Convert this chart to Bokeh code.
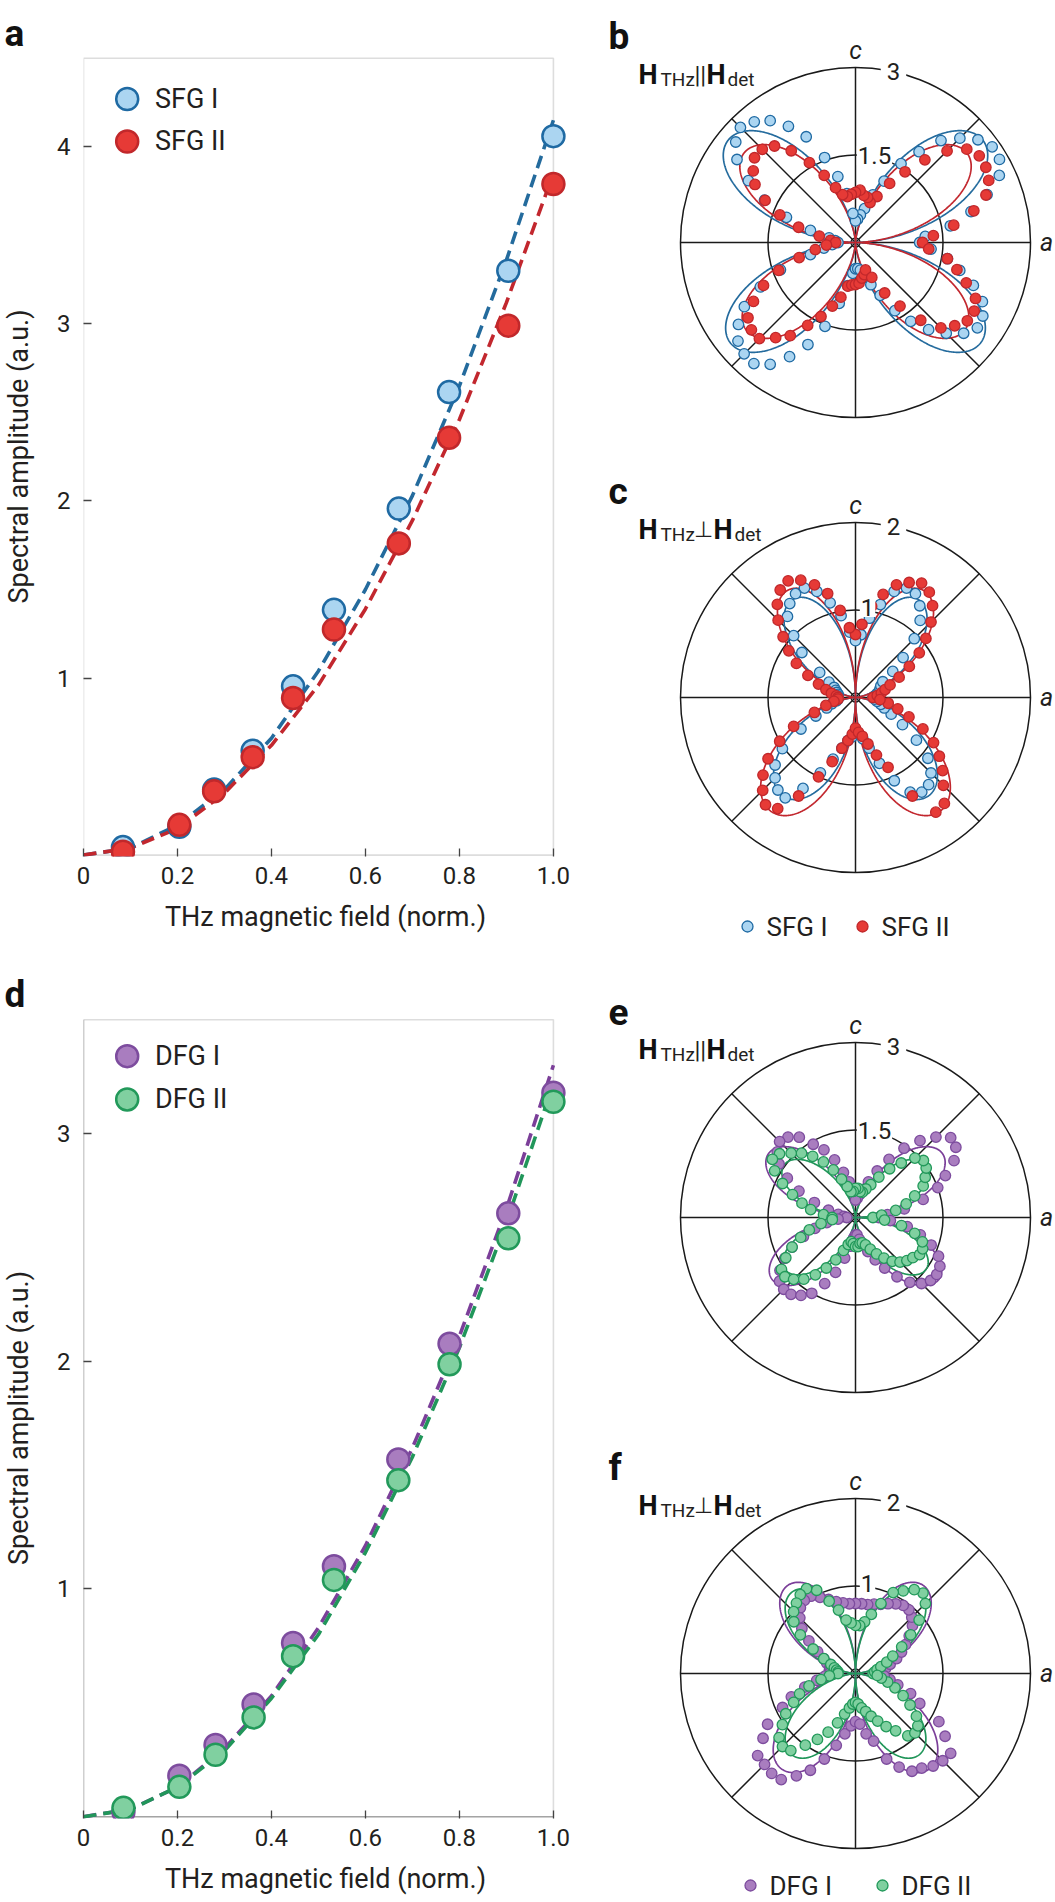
import numpy as np
from bokeh.plotting import figure
from bokeh.models import Range1d, FixedTicker, Label, BoxAnnotation
from bokeh.layouts import row, column
from bokeh.embed import file_html
from bokeh.resources import INLINE

FONT = "Roboto"
TXT = "#231f20"

# ---------------- panel a : SFG amplitude vs THz field ----------------
SFG_FIELD = [0.084, 0.204, 0.278, 0.360, 0.446, 0.533, 0.671, 0.778, 0.904, 1.000]
SFG_I_AMP = [0.045, 0.160, 0.370, 0.590, 0.953, 1.385, 1.957, 2.615, 3.300, 4.060]
SFG_II_AMP = [0.019, 0.171, 0.360, 0.553, 0.887, 1.274, 1.760, 2.357, 2.990, 3.790]
FIT_FIELD = [0.0, 0.1, 0.2, 0.3, 0.4, 0.5, 0.6, 0.7, 0.8, 0.9, 1.0]
SFG_I_FIT = [0.0, 0.04, 0.17, 0.37, 0.66, 1.04, 1.50, 2.03, 2.65, 3.36, 4.15]
SFG_II_FIT = [0.0, 0.04, 0.15, 0.35, 0.62, 0.96, 1.39, 1.89, 2.46, 3.12, 3.85]

# ---------------- panel d : DFG amplitude vs THz field ----------------
DFG_FIELD = [0.085, 0.204, 0.281, 0.362, 0.446, 0.533, 0.670, 0.779, 0.904, 1.000]
DFG_I_AMP = [0.020, 0.180, 0.315, 0.493, 0.763, 1.100, 1.569, 2.077, 2.650, 3.180]
DFG_II_AMP = [0.039, 0.131, 0.272, 0.436, 0.705, 1.040, 1.478, 1.987, 2.540, 3.140]
DFG_I_FIT = [0.0, 0.033, 0.13, 0.30, 0.53, 0.83, 1.19, 1.62, 2.11, 2.67, 3.30]
DFG_II_FIT = [0.0, 0.032, 0.13, 0.29, 0.52, 0.80, 1.16, 1.58, 2.06, 2.61, 3.22]

X_TICKS = [0, 0.2, 0.4, 0.6, 0.8, 1.0]
X_TICK_LABELS = ["0", "0.2", "0.4", "0.6", "0.8", "1.0"]

# ---------------- polar panels (angle from a axis, 5 deg steps) ----------------
ANGLES_DEG = list(range(0, 360, 5))

B_SFG_I = [1.10, 1.20, 1.65, 2.05, 2.40, 2.72, 2.85, 2.86, 2.74, 2.53, 2.28, 1.90, 1.56, 1.16, 0.87, 0.60, 0.48, 0.40,
           0.37, 0.50, 0.85, 1.17, 1.55, 2.00, 2.30, 2.55, 2.70, 2.79, 2.68, 2.48, 2.12, 1.72, 1.26, 0.80, 0.46, 0.35,
           0.30, 0.40, 0.55, 0.80, 1.37, 1.80, 2.20, 2.45, 2.63, 2.70, 2.71, 2.55, 2.26, 1.93, 1.53, 1.08, 0.75, 0.53,
           0.45, 0.45, 0.48, 0.62, 0.77, 1.00, 1.35, 1.65, 1.95, 2.20, 2.42, 2.55, 2.52, 2.40, 2.15, 1.85, 1.60, 1.30]
B_SFG_II = [1.15, 1.34, 1.71, 2.10, 2.38, 2.52, 2.58, 2.59, 2.49, 2.22, 1.85, 1.48, 1.17, 0.87, 0.73, 0.80, 0.82, 0.90,
            0.86, 0.83, 0.80, 0.85, 1.00, 1.27, 1.58, 1.92, 2.16, 2.26, 2.26, 2.14, 1.99, 1.71, 1.38, 1.01, 0.63, 0.43,
            0.34, 0.50, 0.70, 1.00, 1.40, 1.74, 2.02, 2.25, 2.33, 2.33, 2.13, 1.95, 1.64, 1.40, 1.16, 0.97, 0.76, 0.73,
            0.72, 0.70, 0.62, 0.57, 0.50, 0.66, 1.00, 1.33, 1.74, 2.07, 2.22, 2.34, 2.35, 2.27, 2.02, 1.80, 1.60, 1.26]
C_SFG_I = [0.20, 0.22, 0.25, 0.28, 0.30, 0.32, 0.36, 0.52, 0.71, 0.95, 1.15, 1.28, 1.37, 1.38, 1.29, 1.10, 0.92, 0.72,
           0.65, 0.75, 0.95, 1.12, 1.29, 1.38, 1.37, 1.31, 1.21, 1.00, 0.80, 0.50, 0.35, 0.27, 0.24, 0.22, 0.20, 0.20,
           0.20, 0.20, 0.22, 0.28, 0.35, 0.50, 0.72, 1.02, 1.20, 1.30, 1.38, 1.40, 1.20, 0.95, 0.75, 0.60, 0.50, 0.45,
           0.40, 0.42, 0.48, 0.60, 0.80, 1.05, 1.25, 1.32, 1.30, 1.22, 1.08, 0.85, 0.62, 0.45, 0.35, 0.30, 0.25, 0.22]
C_SFG_II = [0.20, 0.25, 0.30, 0.35, 0.42, 0.55, 0.71, 0.89, 1.05, 1.22, 1.37, 1.47, 1.51, 1.45, 1.37, 1.22, 1.06, 0.84,
            0.72, 0.80, 1.01, 1.23, 1.37, 1.48, 1.54, 1.50, 1.39, 1.25, 1.08, 0.93, 0.78, 0.60, 0.45, 0.35, 0.28, 0.22,
            0.20, 0.20, 0.25, 0.35, 0.50, 0.78, 1.00, 1.22, 1.38, 1.50, 1.60, 1.55, 1.30, 1.00, 0.78, 0.60, 0.50, 0.42,
            0.35, 0.40, 0.45, 0.55, 0.70, 0.88, 1.30, 1.60, 1.58, 1.42, 1.30, 1.17, 1.03, 0.85, 0.65, 0.50, 0.38, 0.28]
E_DFG_I = [0.40, 0.55, 0.85, 1.20, 1.50, 1.70, 1.95, 2.10, 2.13, 1.95, 1.72, 1.45, 1.15, 0.88, 0.65, 0.50, 0.40, 0.33,
           0.30, 0.45, 0.62, 0.80, 1.05, 1.28, 1.45, 1.68, 1.80, 1.84, 1.75, 1.60, 1.35, 1.07, 0.75, 0.48, 0.30, 0.20,
           0.15, 0.30, 0.50, 0.72, 0.95, 1.20, 1.40, 1.58, 1.70, 1.74, 1.72, 1.63, 1.50, 1.25, 1.00, 0.72, 0.50, 0.35,
           0.30, 0.30, 0.38, 0.48, 0.62, 0.80, 1.00, 1.24, 1.45, 1.60, 1.68, 1.70, 1.67, 1.57, 1.38, 1.15, 0.90, 0.60]
E_DFG_II = [0.30, 0.45, 0.70, 0.90, 1.08, 1.28, 1.38, 1.48, 1.52, 1.44, 1.22, 1.02, 0.80, 0.62, 0.52, 0.45, 0.45, 0.50,
            0.50, 0.45, 0.45, 0.55, 0.70, 0.90, 1.10, 1.28, 1.44, 1.56, 1.70, 1.74, 1.60, 1.38, 1.15, 0.95, 0.78, 0.55,
            0.40, 0.40, 0.60, 0.82, 1.00, 1.20, 1.38, 1.55, 1.58, 1.50, 1.38, 1.20, 1.00, 0.80, 0.60, 0.48, 0.42, 0.45,
            0.50, 0.50, 0.45, 0.45, 0.50, 0.60, 0.72, 0.85, 0.98, 1.08, 1.15, 1.20, 1.27, 1.27, 1.22, 1.05, 0.80, 0.50]
F_DFG_I = [0.30, 0.32, 0.35, 0.41, 0.50, 0.58, 0.66, 0.75, 0.85, 0.91, 0.95, 0.95, 0.92, 0.88, 0.84, 0.82, 0.80, 0.80,
           0.80, 0.80, 0.82, 0.85, 0.90, 0.96, 1.02, 1.02, 0.98, 0.90, 0.80, 0.65, 0.50, 0.40, 0.35, 0.30, 0.30, 0.30,
           0.30, 0.35, 0.45, 0.60, 0.78, 0.92, 1.16, 1.29, 1.46, 1.47, 1.49, 1.48, 1.35, 1.22, 1.04, 0.85, 0.70, 0.60,
           0.55, 0.58, 0.70, 0.80, 1.04, 1.18, 1.29, 1.32, 1.38, 1.41, 1.42, 1.25, 1.10, 0.81, 0.67, 0.50, 0.40, 0.33]
F_DFG_II = [0.20, 0.22, 0.25, 0.30, 0.38, 0.47, 0.61, 0.77, 0.95, 1.13, 1.20, 1.17, 1.09, 1.02, 0.85, 0.70, 0.60, 0.55,
            0.55, 0.58, 0.62, 0.75, 0.88, 1.05, 1.12, 1.10, 1.05, 1.00, 0.92, 0.77, 0.56, 0.40, 0.30, 0.25, 0.22, 0.20,
            0.20, 0.30, 0.40, 0.55, 0.68, 0.78, 0.92, 1.02, 1.14, 1.18, 1.15, 1.00, 0.87, 0.74, 0.60, 0.48, 0.40, 0.35,
            0.33, 0.35, 0.40, 0.45, 0.52, 0.60, 0.70, 0.80, 0.93, 0.96, 0.93, 0.85, 0.72, 0.60, 0.48, 0.38, 0.30, 0.25]

# fitted lobe parameters: (amp upper, sin exp, cos exp, amp lower, sin exp, cos exp)
B_FIT_I = (2.80, 1.3, 2.0, 2.75, 1.3, 2.0)
B_FIT_II = (2.45, 1.3, 2.0, 2.40, 1.3, 2.0)
C_FIT_I = (1.33, 2.4, 1.0, 1.40, 1.8, 1.0)
C_FIT_II = (1.45, 2.4, 1.0, 1.62, 1.8, 1.0)
E_FIT_I = (1.85, 1.2, 2.2, 1.78, 1.2, 2.2)
E_FIT_II = (1.52, 1.2, 2.2, 1.50, 1.2, 2.2)
F_FIT_I = (1.27, 1.8, 1.1, 1.38, 1.8, 1.1)
F_FIT_II = (1.18, 1.8, 1.1, 1.18, 1.8, 1.1)

# colours
BLUE_FILL, BLUE_LINE, BLUE_FIT = "#abd5f1", "#1f6aa3", "#246b9d"
RED_FILL, RED_LINE, RED_FIT = "#e63a36", "#c1282b", "#c2272e"
PUR_FILL, PUR_LINE, PUR_FIT = "#a97dbf", "#7d4c9e", "#7b3f99"
GRN_FILL, GRN_LINE, GRN_FIT = "#80d0a0", "#22995a", "#21965a"

LEFT_W, RIGHT_W = 600, 455


# ====================================================================
def xy_panel(height, ymax, yticks, b_top, b_bottom, axis_col, letter, letter_standoff,
             letter_valign, fits, series, legend, leg_y):
    p = figure(width=LEFT_W, height=height, x_range=Range1d(0, 1.03),
               y_range=Range1d(-0.008, ymax + 0.01), toolbar_location=None,
               output_backend="svg", min_border_left=79, min_border_right=33,
               min_border_top=b_top, min_border_bottom=b_bottom,
               x_axis_label="THz magnetic field (norm.)",
               y_axis_label="Spectral amplitude (a.u.)")
    p.grid.visible = False
    p.outline_line_color = None
    p.background_fill_color = "white"
    p.border_fill_color = "white"
    # panel letter as the figure title, pushed to the far left
    p.title.text = letter
    p.title.align = "left"
    p.title.offset = -79
    p.title.text_font = FONT
    p.title.text_font_size = "37px"
    p.title.text_font_style = "bold"
    p.title.text_color = "#111111"
    p.title.vertical_align = letter_valign
    p.title.standoff = letter_standoff

    p.add_layout(BoxAnnotation(left=0, right=1.0, bottom=0, top=ymax, fill_alpha=0,
                               line_color="#8d8d8d", line_width=1.6, level="underlay"))
    if axis_col != "#8d8d8d":
        p.add_layout(BoxAnnotation(left=0, right=0, bottom=0, top=ymax, fill_alpha=0,
                                   line_color=axis_col, line_width=1.4, level="underlay"))
        p.add_layout(BoxAnnotation(left=0, right=1.0, bottom=0, top=0, fill_alpha=0,
                                   line_color=axis_col, line_width=1.4, level="underlay"))
    xa, ya = p.xaxis[0], p.yaxis[0]
    xa.ticker = FixedTicker(ticks=X_TICKS)
    xa.major_label_overrides = {t: s for t, s in zip(X_TICKS, X_TICK_LABELS)}
    ya.ticker = FixedTicker(ticks=yticks)
    for ax in (xa, ya):
        ax.axis_line_color = None
        ax.major_tick_in = 8
        ax.major_tick_out = 0
        ax.major_tick_line_color = "#444444"
        ax.major_tick_line_width = 1.3
        ax.minor_tick_line_color = None
        ax.major_label_text_font = FONT
        ax.major_label_text_font_size = "24px"
        ax.major_label_text_color = TXT
        ax.axis_label_text_font = FONT
        ax.axis_label_text_font_size = "27px"
        ax.axis_label_text_font_style = "normal"
        ax.axis_label_text_color = TXT
    xa.major_label_standoff = 10
    xa.axis_label_standoff = 14
    ya.major_label_standoff = 13
    ya.axis_label_standoff = 19

    for fy, col in fits:
        p.line(FIT_FIELD, fy, line_color=col, line_width=3.6, line_dash="13 7")
    for xs, ys, fc, lc in series:
        p.scatter(xs, ys, size=22, fill_color=fc, line_color=lc, line_width=2.5)
    for (name, fc, lc), yy in zip(legend, leg_y):
        p.scatter([0.093], [yy], size=22, fill_color=fc, line_color=lc, line_width=2.5)
        p.add_layout(Label(x=0.152, y=yy, text=name, text_font=FONT, text_font_size="27px",
                           text_baseline="middle", text_color=TXT))
    return p


FIT_THETA = np.radians(np.arange(0.0, 360.25, 0.25))


def lobe_fit(params):
    amp_up, ps_up, pc_up, amp_lo, ps_lo, pc_lo = params
    s = np.abs(np.sin(FIT_THETA))
    c = np.abs(np.cos(FIT_THETA))
    up = s ** ps_up * c ** pc_up
    up = up / up.max()
    lo = s ** ps_lo * c ** pc_lo
    lo = lo / lo.max()
    r = np.where(np.sin(FIT_THETA) >= 0, amp_up * up, amp_lo * lo)
    return r * np.cos(FIT_THETA), r * np.sin(FIT_THETA)


def polar_panel(height, cy_top, rmax, inner_txt, inner_pos, letter, perp, data, fits,
                legend, legend_dy, legend_dx):
    unit = 175.0 / rmax
    cxl = 255.0
    p = figure(width=RIGHT_W, height=height,
               x_range=Range1d(-cxl / unit, (RIGHT_W - cxl) / unit),
               y_range=Range1d(-(height - cy_top) / unit, cy_top / unit),
               x_axis_type=None, y_axis_type=None, toolbar_location=None,
               output_backend="svg", min_border=0)
    p.outline_line_color = None
    p.background_fill_color = "white"
    p.border_fill_color = "white"

    def lab(dx, dy, text, size, style="normal", align="left", baseline="alphabetic",
            bg=None, pad=0, color=TXT):
        kw = dict(x=dx / unit, y=dy / unit, text=text, text_font=FONT,
                  text_font_size=f"{size}px", text_font_style=style, text_align=align,
                  text_baseline=baseline, text_color=color)
        if bg:
            kw.update(background_fill_color=bg, padding=pad)
        p.add_layout(Label(**kw))

    # polar grid
    p.circle(x=[0, 0], y=[0, 0], radius=[rmax, rmax / 2], fill_color=None,
             line_color="#1a1a1a", line_width=1.5)
    ga = np.radians(np.arange(0, 360, 45))
    p.segment(x0=np.zeros(len(ga)), y0=np.zeros(len(ga)), x1=rmax * np.cos(ga),
              y1=rmax * np.sin(ga), line_color="#1a1a1a", line_width=1.5)
    p.circle(x=[0], y=[0], radius=[4.5 / unit], fill_color=None, line_color="#1a1a1a",
             line_width=1.3)

    # fits
    for prm, col in fits:
        fx, fy = lobe_fit(prm)
        p.line(fx, fy, line_color=col, line_width=1.7)
    # data
    th = np.radians(ANGLES_DEG)
    for rr, fc, lc in data:
        rr = np.asarray(rr)
        p.scatter(rr * np.cos(th), rr * np.sin(th), size=10.5, fill_color=fc,
                  line_color=lc, line_width=1.3)

    # axis letters & radial tick labels
    lab(0, 192, "c", 25, style="italic", align="center", baseline="middle")
    lab(191, 0, "a", 25, style="italic", align="center", baseline="middle")
    lab(38, 171, f"{rmax:g}", 24, align="center", baseline="middle", bg="white", pad=6)
    lab(inner_pos[0], inner_pos[1], inner_txt, 24, align="center", baseline="middle",
        bg="white", pad=1)

    # panel letter
    lab(-247, 206, letter, 37, style="bold", color="#111111")
    # relation title  H_THz || H_det  /  H_THz ⊥ H_det
    lab(-217, 168, "H", 27, style="bold", color="#111111")
    lab(-195, 163, "THz", 19)
    if perp:
        lab(-162, 168, "\u22a5", 22)
        lab(-142, 168, "H", 27, style="bold", color="#111111")
        lab(-121, 163, "det", 19)
    else:
        lab(-161, 168, "||", 24)
        lab(-149, 168, "H", 27, style="bold", color="#111111")
        lab(-128, 163, "det", 19)

    # legend
    if legend:
        for (name, fc, lc), dx in zip(legend, legend_dx):
            p.scatter([dx / unit], [legend_dy / unit], size=11, fill_color=fc, line_color=lc,
                      line_width=1.3)
            lab(dx + 19, legend_dy, name, 26, baseline="middle")
    return p


pa = xy_panel(968, 4.5, [1, 2, 3, 4], 56, 112, "#8d8d8d", "a", 0, "top",
              [(SFG_I_FIT, BLUE_FIT), (SFG_II_FIT, RED_FIT)],
              [(SFG_FIELD, SFG_I_AMP, BLUE_FILL, BLUE_LINE),
               (SFG_FIELD, SFG_II_AMP, RED_FILL, RED_LINE)],
              [("SFG I", BLUE_FILL, BLUE_LINE), ("SFG II", RED_FILL, RED_LINE)],
              [4.27, 4.03])
pd_ = xy_panel(934, 3.5, [1, 2, 3], 46, 84, "#222222", "d", 4, "bottom",
               [(DFG_I_FIT, PUR_FIT), (DFG_II_FIT, GRN_FIT)],
               [(DFG_FIELD, DFG_I_AMP, PUR_FILL, PUR_LINE),
                (DFG_FIELD, DFG_II_AMP, GRN_FILL, GRN_LINE)],
               [("DFG I", PUR_FILL, PUR_LINE), ("DFG II", GRN_FILL, GRN_LINE)],
               [3.34, 3.15])

pb = polar_panel(468, 242, 3, "1.5", (19, 87), "b", False,
                 [(B_SFG_I, BLUE_FILL, BLUE_LINE), (B_SFG_II, RED_FILL, RED_LINE)],
                 [(B_FIT_I, BLUE_FIT), (B_FIT_II, RED_FIT)], None, 0, None)
pc = polar_panel(500, 229, 2, "1", (12, 90), "c", True,
                 [(C_SFG_I, BLUE_FILL, BLUE_LINE), (C_SFG_II, RED_FILL, RED_LINE)],
                 [(C_FIT_I, BLUE_FIT), (C_FIT_II, RED_FIT)],
                 [("SFG I", BLUE_FILL, BLUE_LINE), ("SFG II", RED_FILL, RED_LINE)],
                 -229, [-108, 7])
pe = polar_panel(460, 249, 3, "1.5", (19, 87), "e", False,
                 [(E_DFG_I, PUR_FILL, PUR_LINE), (E_DFG_II, GRN_FILL, GRN_LINE)],
                 [(E_FIT_I, PUR_FIT), (E_FIT_II, GRN_FIT)], None, 0, None)
pf = polar_panel(474, 245, 2, "1", (12, 90), "f", True,
                 [(F_DFG_I, PUR_FILL, PUR_LINE), (F_DFG_II, GRN_FILL, GRN_LINE)],
                 [(F_FIT_I, PUR_FIT), (F_FIT_II, GRN_FIT)],
                 [("DFG I", PUR_FILL, PUR_LINE), ("DFG II", GRN_FILL, GRN_LINE)],
                 -212, [-105, 27])

layout = row(column(pa, pd_), column(pb, pc, pe, pf))
open("out.html", "w").write(file_html(layout, INLINE))
